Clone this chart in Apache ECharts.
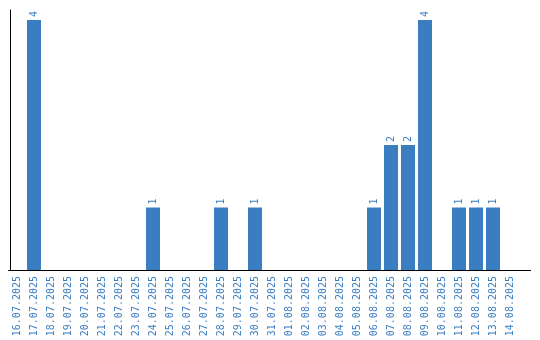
<!DOCTYPE html>
<html>
<head>
<meta charset="utf-8">
<script src="https://cdn.jsdelivr.net/npm/echarts@6/dist/echarts.min.js"></script>
<style>html,body{margin:0;padding:0;background:#fff}#c{width:540px;height:340px}</style>
</head>
<body>
<div id="c"></div>
<script>
const categories = ['16.07.2025','17.07.2025','18.07.2025','19.07.2025','20.07.2025','21.07.2025','22.07.2025','23.07.2025','24.07.2025','25.07.2025','26.07.2025','27.07.2025','28.07.2025','29.07.2025','30.07.2025','31.07.2025','01.08.2025','02.08.2025','03.08.2025','04.08.2025','05.08.2025','06.08.2025','07.08.2025','08.08.2025','09.08.2025','10.08.2025','11.08.2025','12.08.2025','13.08.2025','14.08.2025'];
const values = [0,4,0,0,0,0,0,0,1,0,0,0,1,0,1,0,0,0,0,0,0,1,2,2,4,0,1,1,1,0];

const blue = '#3b7dc1';
const chart = echarts.init(document.getElementById('c'), null, {renderer:'canvas'});
chart.setOption({
  animation: false,
  grid: {left: 8.5, top: 10, width: 510, height: 260},
  xAxis: {
    type: 'category',
    data: categories,
    axisLine: {show: true, lineStyle: {color: '#000', width: 1}},
    axisTick: {show: false},
    axisLabel: {interval: 0, rotate: 90, margin: 6, color: blue, fontFamily: 'DejaVu Sans Mono', fontSize: 10}
  },
  yAxis: {
    type: 'value', min: 0, max: 4.16, offset: -1.5,
    axisLine: {show: true, lineStyle: {color: '#000', width: 1}},
    axisTick: {show: false},
    axisLabel: {show: false},
    splitLine: {show: false}
  },
  series: [{
    type: 'bar',
    data: values,
    barWidth: 14,
    itemStyle: {color: blue},
    label: {
      show: true, position: 'top', rotate: 90, distance: 3,
      align: 'left', verticalAlign: 'middle',
      color: blue, fontFamily: 'DejaVu Sans Mono', fontSize: 10,
      formatter: p => p.value ? String(p.value) : ''
    }
  }],
  graphic: [{
    type: 'line', silent: true,
    shape: {x1: 518, y1: 270.5, x2: 531, y2: 270.5},
    style: {stroke: '#000', lineWidth: 1}
  }]
});
</script>
</body>
</html>
